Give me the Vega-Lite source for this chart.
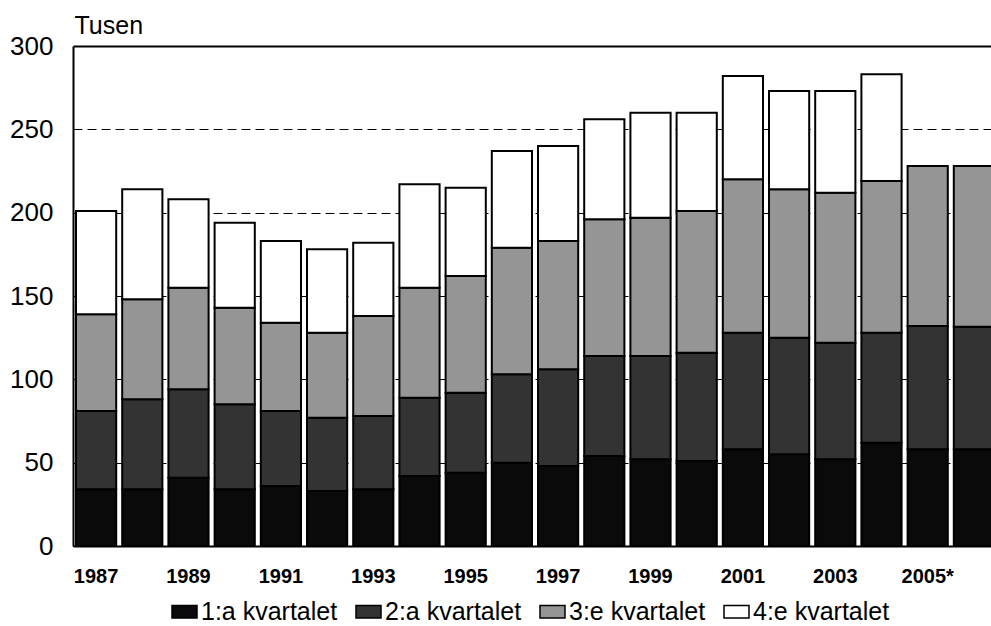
{
  "$schema": "https://vega.github.io/schema/vega-lite/v6.json",
  "autosize": {"type": "none"},
  "padding": {"left": 73, "top": 46, "right": 0, "bottom": 80},
  "width": 918,
  "height": 500,
  "background": "white",
  "config": {
    "font": "Liberation Sans",
    "view": {"stroke": null}
  },
  "data": {
    "values": [
      {"year": "1987", "kvartal": "1:a kvartalet", "q": 1, "value": 34},
      {"year": "1987", "kvartal": "2:a kvartalet", "q": 2, "value": 47},
      {"year": "1987", "kvartal": "3:e kvartalet", "q": 3, "value": 58},
      {"year": "1987", "kvartal": "4:e kvartalet", "q": 4, "value": 62},
      {"year": "1988", "kvartal": "1:a kvartalet", "q": 1, "value": 34},
      {"year": "1988", "kvartal": "2:a kvartalet", "q": 2, "value": 54},
      {"year": "1988", "kvartal": "3:e kvartalet", "q": 3, "value": 60},
      {"year": "1988", "kvartal": "4:e kvartalet", "q": 4, "value": 66},
      {"year": "1989", "kvartal": "1:a kvartalet", "q": 1, "value": 41},
      {"year": "1989", "kvartal": "2:a kvartalet", "q": 2, "value": 53},
      {"year": "1989", "kvartal": "3:e kvartalet", "q": 3, "value": 61},
      {"year": "1989", "kvartal": "4:e kvartalet", "q": 4, "value": 53},
      {"year": "1990", "kvartal": "1:a kvartalet", "q": 1, "value": 34},
      {"year": "1990", "kvartal": "2:a kvartalet", "q": 2, "value": 51},
      {"year": "1990", "kvartal": "3:e kvartalet", "q": 3, "value": 58},
      {"year": "1990", "kvartal": "4:e kvartalet", "q": 4, "value": 51},
      {"year": "1991", "kvartal": "1:a kvartalet", "q": 1, "value": 36},
      {"year": "1991", "kvartal": "2:a kvartalet", "q": 2, "value": 45},
      {"year": "1991", "kvartal": "3:e kvartalet", "q": 3, "value": 53},
      {"year": "1991", "kvartal": "4:e kvartalet", "q": 4, "value": 49},
      {"year": "1992", "kvartal": "1:a kvartalet", "q": 1, "value": 33},
      {"year": "1992", "kvartal": "2:a kvartalet", "q": 2, "value": 44},
      {"year": "1992", "kvartal": "3:e kvartalet", "q": 3, "value": 51},
      {"year": "1992", "kvartal": "4:e kvartalet", "q": 4, "value": 50},
      {"year": "1993", "kvartal": "1:a kvartalet", "q": 1, "value": 34},
      {"year": "1993", "kvartal": "2:a kvartalet", "q": 2, "value": 44},
      {"year": "1993", "kvartal": "3:e kvartalet", "q": 3, "value": 60},
      {"year": "1993", "kvartal": "4:e kvartalet", "q": 4, "value": 44},
      {"year": "1994", "kvartal": "1:a kvartalet", "q": 1, "value": 42},
      {"year": "1994", "kvartal": "2:a kvartalet", "q": 2, "value": 47},
      {"year": "1994", "kvartal": "3:e kvartalet", "q": 3, "value": 66},
      {"year": "1994", "kvartal": "4:e kvartalet", "q": 4, "value": 62},
      {"year": "1995", "kvartal": "1:a kvartalet", "q": 1, "value": 44},
      {"year": "1995", "kvartal": "2:a kvartalet", "q": 2, "value": 48},
      {"year": "1995", "kvartal": "3:e kvartalet", "q": 3, "value": 70},
      {"year": "1995", "kvartal": "4:e kvartalet", "q": 4, "value": 53},
      {"year": "1996", "kvartal": "1:a kvartalet", "q": 1, "value": 50},
      {"year": "1996", "kvartal": "2:a kvartalet", "q": 2, "value": 53},
      {"year": "1996", "kvartal": "3:e kvartalet", "q": 3, "value": 76},
      {"year": "1996", "kvartal": "4:e kvartalet", "q": 4, "value": 58},
      {"year": "1997", "kvartal": "1:a kvartalet", "q": 1, "value": 48},
      {"year": "1997", "kvartal": "2:a kvartalet", "q": 2, "value": 58},
      {"year": "1997", "kvartal": "3:e kvartalet", "q": 3, "value": 77},
      {"year": "1997", "kvartal": "4:e kvartalet", "q": 4, "value": 57},
      {"year": "1998", "kvartal": "1:a kvartalet", "q": 1, "value": 54},
      {"year": "1998", "kvartal": "2:a kvartalet", "q": 2, "value": 60},
      {"year": "1998", "kvartal": "3:e kvartalet", "q": 3, "value": 82},
      {"year": "1998", "kvartal": "4:e kvartalet", "q": 4, "value": 60},
      {"year": "1999", "kvartal": "1:a kvartalet", "q": 1, "value": 52},
      {"year": "1999", "kvartal": "2:a kvartalet", "q": 2, "value": 62},
      {"year": "1999", "kvartal": "3:e kvartalet", "q": 3, "value": 83},
      {"year": "1999", "kvartal": "4:e kvartalet", "q": 4, "value": 63},
      {"year": "2000", "kvartal": "1:a kvartalet", "q": 1, "value": 51},
      {"year": "2000", "kvartal": "2:a kvartalet", "q": 2, "value": 65},
      {"year": "2000", "kvartal": "3:e kvartalet", "q": 3, "value": 85},
      {"year": "2000", "kvartal": "4:e kvartalet", "q": 4, "value": 59},
      {"year": "2001", "kvartal": "1:a kvartalet", "q": 1, "value": 58},
      {"year": "2001", "kvartal": "2:a kvartalet", "q": 2, "value": 70},
      {"year": "2001", "kvartal": "3:e kvartalet", "q": 3, "value": 92},
      {"year": "2001", "kvartal": "4:e kvartalet", "q": 4, "value": 62},
      {"year": "2002", "kvartal": "1:a kvartalet", "q": 1, "value": 55},
      {"year": "2002", "kvartal": "2:a kvartalet", "q": 2, "value": 70},
      {"year": "2002", "kvartal": "3:e kvartalet", "q": 3, "value": 89},
      {"year": "2002", "kvartal": "4:e kvartalet", "q": 4, "value": 59},
      {"year": "2003", "kvartal": "1:a kvartalet", "q": 1, "value": 52},
      {"year": "2003", "kvartal": "2:a kvartalet", "q": 2, "value": 70},
      {"year": "2003", "kvartal": "3:e kvartalet", "q": 3, "value": 90},
      {"year": "2003", "kvartal": "4:e kvartalet", "q": 4, "value": 61},
      {"year": "2004", "kvartal": "1:a kvartalet", "q": 1, "value": 62},
      {"year": "2004", "kvartal": "2:a kvartalet", "q": 2, "value": 66},
      {"year": "2004", "kvartal": "3:e kvartalet", "q": 3, "value": 91},
      {"year": "2004", "kvartal": "4:e kvartalet", "q": 4, "value": 64},
      {"year": "2005*", "kvartal": "1:a kvartalet", "q": 1, "value": 58},
      {"year": "2005*", "kvartal": "2:a kvartalet", "q": 2, "value": 74},
      {"year": "2005*", "kvartal": "3:e kvartalet", "q": 3, "value": 96},
      {"year": "2006*", "kvartal": "1:a kvartalet", "q": 1, "value": 58},
      {"year": "2006*", "kvartal": "2:a kvartalet", "q": 2, "value": 73.5},
      {"year": "2006*", "kvartal": "3:e kvartalet", "q": 3, "value": 96.5}
    ]
  },
  "mark": {"type": "bar", "stroke": "black", "strokeWidth": 2},
  "encoding": {
    "x": {
      "field": "year",
      "type": "ordinal",
      "sort": null,
      "scale": {"range": [0, 924], "paddingInner": 0.13, "paddingOuter": 0.065},
      "axis": {
        "title": null,
        "values": ["1987", "1989", "1991", "1993", "1995", "1997", "1999", "2001", "2003", "2005*"],
        "labelAngle": 0,
        "labelFontSize": 20,
        "labelFontWeight": "bold",
        "labelColor": "black",
        "labelPadding": 20,
        "ticks": false,
        "domainColor": "black",
        "domainWidth": 2
      }
    },
    "y": {
      "field": "value",
      "type": "quantitative",
      "stack": "zero",
      "scale": {"domain": [0, 300], "nice": false},
      "axis": {
        "values": [0, 50, 100, 150, 200, 250, 300],
        "title": "Tusen",
        "titleAngle": 0,
        "titleAlign": "left",
        "titleBaseline": "alphabetic",
        "titleX": 1,
        "titleY": -13,
        "titleFontSize": 25,
        "titleFontWeight": "normal",
        "titleColor": "black",
        "labelFontSize": 26,
        "labelColor": "black",
        "labelPadding": 20,
        "ticks": false,
        "domainColor": "black",
        "domainWidth": 2,
        "grid": true,
        "gridColor": "black",
        "gridDash": {"condition": {"test": "datum.value === 300", "value": []}, "value": [9, 5]},
        "gridWidth": {"condition": {"test": "datum.value === 300", "value": 2}, "value": 1}
      }
    },
    "color": {
      "field": "kvartal",
      "type": "nominal",
      "scale": {
        "domain": ["1:a kvartalet", "2:a kvartalet", "3:e kvartalet", "4:e kvartalet"],
        "range": ["#0a0a0a", "#333333", "#959595", "#ffffff"]
      },
      "legend": {
        "title": null,
        "orient": "none",
        "legendX": 98,
        "legendY": 552,
        "direction": "horizontal",
        "labelFontSize": 25,
        "labelColor": "black",
        "labelOffset": 3,
        "symbolType": "M-1,-0.5H1V0.5H-1Z",
        "symbolSize": 625,
        "symbolStrokeColor": "black",
        "symbolStrokeWidth": 1.5,
        "symbolOpacity": 1,
        "columnPadding": 15
      }
    },
    "order": {"field": "q", "type": "quantitative", "sort": "ascending"}
  }
}
